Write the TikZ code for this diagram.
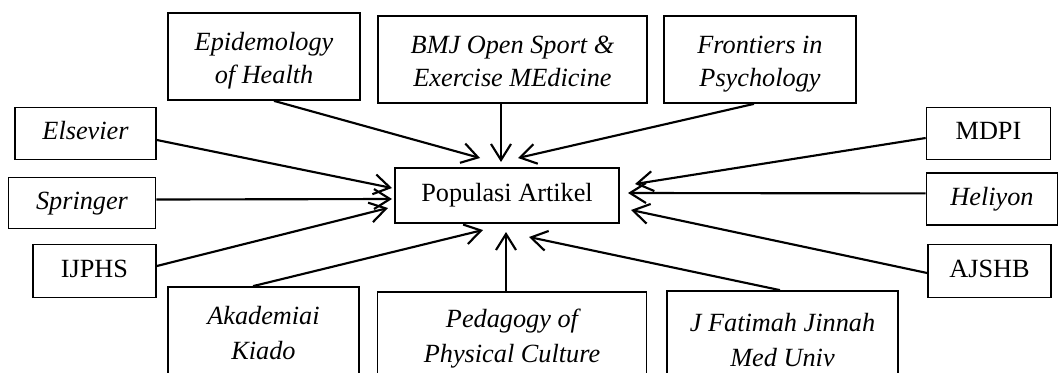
\documentclass[tikz,border=0pt]{standalone}
\usepackage{fontspec}
\setmainfont{Liberation Serif}
\usetikzlibrary{arrows.meta,calc}
\begin{document}
\begin{tikzpicture}[x=0.75pt,y=-0.75pt,
  box/.style={draw,line width=1.3pt,inner sep=0pt,align=center,
    font=\fontsize{19.7pt}{24.75pt}\selectfont},
  onebox/.style={box,text height=13.5pt,text depth=4.3pt},
  twobox/.style={box,text height=44.25pt,text depth=4.3pt},
  lowbox/.style={box,font=\fontsize{19.7pt}{26.25pt}\selectfont},
  conn/.style={line width=1.6pt,-{Straight Barb[length=12pt,width=15pt]}}]
\useasboundingbox (0,0) rectangle (1060,372);
\clip (0,0) rectangle (1060,372);
% boxes
\node[twobox,minimum width=144pt,minimum height=65.25pt] (epi) at (264,56.5) {\itshape Epidemology\\\itshape of Health};
\node[twobox,minimum width=201.75pt,minimum height=65.25pt] (bmj) at (512.5,59.5) {\itshape BMJ Open Sport \&\\\itshape Exercise MEdicine};
\node[twobox,minimum width=144pt,minimum height=65.25pt] (fro) at (760,59.5) {\itshape Frontiers in\\\itshape Psychology};
\node[onebox,minimum width=105.75pt,minimum height=39pt] (els) at (85.5,133.5) {\itshape Elsevier};
\node[onebox,minimum width=93pt,minimum height=39pt] (mdpi) at (988.5,133.5) {MDPI};
\node[onebox,minimum width=110.25pt,minimum height=38.25pt] (spr) at (82,203) {\itshape Springer};
\node[onebox,minimum width=98.25pt,minimum height=39pt] (hel) at (992,199) {\itshape Heliyon};
\node[onebox,minimum width=168pt,minimum height=41.25pt] (pop) at (507,195.5) {Populasi Artikel};
\node[onebox,minimum width=92.25pt,minimum height=39.75pt] (ijp) at (94.5,271) {IJPHS};
\node[onebox,minimum width=92.25pt,minimum height=39.75pt] (ajs) at (989.5,271) {AJSHB};
\node[lowbox,minimum width=143.25pt,minimum height=69pt] (aka) at (263.5,333) {\itshape Akademiai\\\itshape Kiado};
\node[lowbox,minimum width=201.75pt,minimum height=70.5pt] (ped) at (512,339) {\itshape Pedagogy of\\\itshape Physical Culture};
\node[lowbox,minimum width=173.25pt,minimum height=73.5pt] (jfa) at (782.5,340) {\itshape J Fatimah Jinnah\\\itshape Med Univ};
% arrow tips
\coordinate (tepi) at (480,158);
\coordinate (tbmj) at (501,162);
\coordinate (tfro) at (518,158);
\coordinate (tels) at (392,188);
\coordinate (tspr) at (392,199);
\coordinate (tijp) at (388,208);
\coordinate (taka) at (483,230);
\coordinate (tped) at (506,232);
\coordinate (tjfa) at (529,237);
\coordinate (tmdpi) at (635,184);
\coordinate (thel) at (628,193);
\coordinate (tajs) at (631,210);
% connectors
\draw[conn] ($(epi.south)+(10,0)$) -- (tepi);
\draw[conn] ($(bmj.south)+(-11.5,0)$) -- (tbmj);
\draw[conn] ($(fro.south)+(-6,0)$) -- (tfro);
\draw[conn] ($(els.east)+(0,6.5)$) -- (tels);
\draw[conn] ($(spr.east)+(0,-3.5)$) -- (tspr);
\draw[conn] ($(ijp.east)+(0,-5)$) -- (tijp);
\draw[conn] ($(aka.north)+(-10.5,0)$) -- (taka);
\draw[conn] ($(ped.north)+(-6,0)$) -- (tped);
\draw[conn] ($(jfa.north)+(-2.5,0)$) -- (tjfa);
\draw[conn] ($(mdpi.west)+(0,4.5)$) -- (tmdpi);
\draw[conn] ($(hel.west)+(0,-5.6)$) -- (thel);
\draw[conn] ($(ajs.west)+(0,2)$) -- (tajs);
\end{tikzpicture}
\end{document}
